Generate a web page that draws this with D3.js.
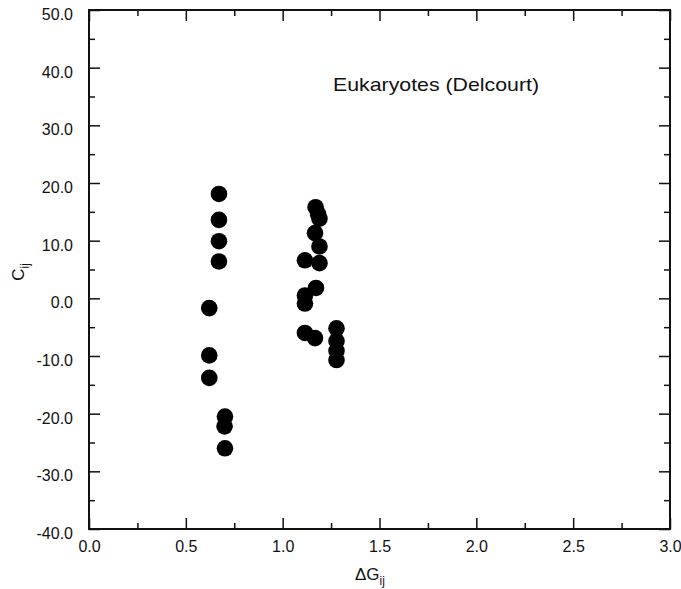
<!DOCTYPE html>
<html>
<head>
<meta charset="utf-8">
<script src="https://cdn.jsdelivr.net/npm/d3@7"></script>
<style>
  body { margin: 0; background: #fff; }
  text { font-family: "Liberation Sans", Arial, sans-serif; fill: #111; }
</style>
</head>
<body>
<svg id="chart" width="681" height="589"></svg>
<script>
// data
var deltaG = [0.671, 0.671, 0.671, 0.671, 0.621, 0.621, 0.621, 0.702, 0.700, 0.702,
              1.170, 1.183, 1.190, 1.167, 1.190, 1.115, 1.190, 1.172, 1.115, 1.115,
              1.115, 1.167, 1.278, 1.278, 1.278, 1.278];
var cij    = [18.1, 13.6, 9.9, 6.4, -1.7, -9.9, -13.8, -20.5, -22.2, -26.0,
              15.8, 14.6, 13.8, 11.3, 9.0, 6.6, 6.1, 1.8, 0.5, -0.9,
              -6.0, -6.9, -5.2, -7.4, -9.1, -10.7];
var xTicks = [0, 0.5, 1.0, 1.5, 2.0, 2.5, 3.0];
var yTicks = [-40, -30, -20, -10, 0, 10, 20, 30, 40, 50];

var svg = d3.select("#chart"),
    pLeft = 89, pRight = 670, pTop = 10, pBottom = 529;

var x = d3.scaleLinear().domain([0, 3]).range([pLeft, pRight]),
    y = d3.scaleLinear().domain([-40, 50]).range([pBottom, pTop]);

//minor ticks between the majors
var xMinor = d3.range(0.25, 3, 0.5),
    yMinor = d3.range(-35, 50, 10);

//plain hyphen minus, like the original
var fmt = function(d) { return d.toFixed(1); };

//--------------AXES (ticks inside, on all four sides)------------------
svg.append("g").attr("class", "xax").attr("transform", "translate(0," + pBottom + ")")
  .call(d3.axisBottom(x).tickValues(xTicks).tickSize(-11).tickPadding(12).tickFormat(fmt));
svg.append("g").attr("transform", "translate(0," + pBottom + ")")
  .call(d3.axisBottom(x).tickValues(xMinor).tickSize(-6).tickFormat(""));
svg.append("g").attr("transform", "translate(0," + pTop + ")")
  .call(d3.axisTop(x).tickValues(xTicks).tickSize(-11).tickFormat(""));
svg.append("g").attr("transform", "translate(0," + pTop + ")")
  .call(d3.axisTop(x).tickValues(xMinor).tickSize(-6).tickFormat(""));

svg.append("g").attr("class", "yax").attr("transform", "translate(" + pLeft + ",0)")
  .call(d3.axisLeft(y).tickValues(yTicks).tickSize(-11).tickPadding(16).tickFormat(fmt));
svg.append("g").attr("transform", "translate(" + pLeft + ",0)")
  .call(d3.axisLeft(y).tickValues(yMinor).tickSize(-6).tickFormat(""));
svg.append("g").attr("transform", "translate(" + pRight + ",0)")
  .call(d3.axisRight(y).tickValues(yTicks).tickSize(-11).tickFormat(""));
svg.append("g").attr("transform", "translate(" + pRight + ",0)")
  .call(d3.axisRight(y).tickValues(yMinor).tickSize(-6).tickFormat(""));

svg.selectAll(".domain").remove();
svg.selectAll(".tick line").attr("stroke", "#111").attr("stroke-width", 1.5);
svg.selectAll(".tick text").style("font-size", "16px").attr("fill", "#111");
svg.selectAll(".yax .tick text").attr("dy", "0.6em");

//frame
svg.append("rect")
  .attr("x", pLeft).attr("y", pTop)
  .attr("width", pRight - pLeft).attr("height", pBottom - pTop)
  .attr("fill", "none").attr("stroke", "#111").attr("stroke-width", 2);

//--------------POINTS------------------------------------------
svg.append("g").selectAll("circle")
  .data(deltaG)
  .enter().append("circle")
  .attr("cx", function(d) { return x(d); })
  .attr("cy", function(d, i) { return y(cij[i]); })
  .attr("r", 8.3)
  .attr("fill", "#000");

//--------------LABELS------------------------------------------
svg.append("text")
  .attr("x", 333).attr("y", 91)
  .style("font-size", "19px")
  .attr("textLength", 206)
  .attr("lengthAdjust", "spacingAndGlyphs")
  .text("Eukaryotes (Delcourt)");

var xl = svg.append("text")
  .attr("x", 355).attr("y", 580)
  .style("font-size", "17px");
xl.append("tspan").text("\u0394G");
xl.append("tspan").attr("dy", 5).style("font-size", "12px").text("ij");

var yl = svg.append("text")
  .attr("transform", "translate(24,272) rotate(-90)")
  .attr("text-anchor", "middle")
  .style("font-size", "17px");
yl.append("tspan").text("C");
yl.append("tspan").attr("dy", 5).style("font-size", "12px").text("ij");
</script>
</body>
</html>
